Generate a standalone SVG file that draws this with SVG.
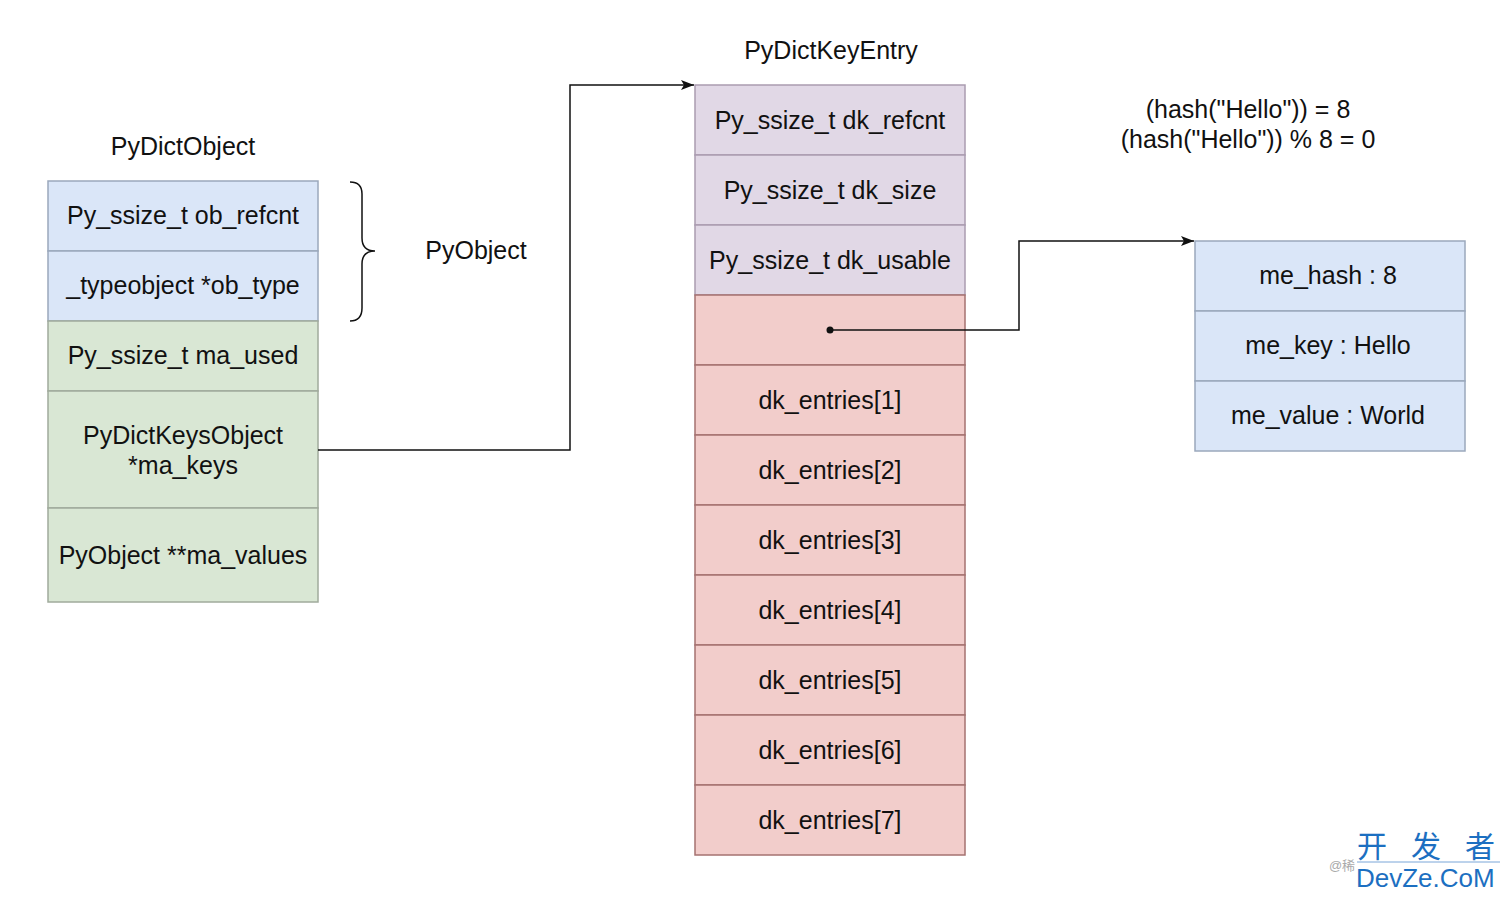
<svg xmlns="http://www.w3.org/2000/svg" width="1512" height="898" viewBox="0 0 1512 898">
<style>
text{font-family:"Liberation Sans",Helvetica,Arial,sans-serif;font-size:25px;fill:#111;text-anchor:middle}
.blue{fill:#dae6f8;stroke:#9ba8bc;stroke-width:1.5}
.green{fill:#d9e7d4;stroke:#a0ab9c;stroke-width:1.5}
.purple{fill:#e1d8e6;stroke:#aa9cb0;stroke-width:1.5}
.red{fill:#f2cdcb;stroke:#a57270;stroke-width:1.5}
.conn{fill:none;stroke:#111;stroke-width:1.5}
.wm{font-family:"Liberation Sans","Noto Sans CJK SC",sans-serif;fill:#1c6fc1;text-anchor:start}
.wc{font-family:"Noto Sans CJK SC",sans-serif;fill:#1c6fc1;font-size:30px;text-anchor:start}
</style>
<defs>
<marker id="arr" markerWidth="14" markerHeight="10" refX="13" refY="5" orient="auto" markerUnits="userSpaceOnUse">
<path d="M0,0 L13,5 L0,10 L3,5 z" fill="#111"/>
</marker>
</defs>
<rect width="1512" height="898" fill="#fff"/>

<g id="labels">
<text x="183" y="155">PyDictObject</text>
<text x="476" y="259">PyObject</text>
<text x="831" y="59">PyDictKeyEntry</text>
<text x="1248" y="118">(hash("Hello")) = 8</text>
<text x="1248" y="148">(hash("Hello")) % 8 = 0</text>
</g>

<g id="brace">
<path d="M350,182 Q362,182 362,194 L362,238 Q362,251 375,251 Q362,251 362,264 L362,308 Q362,321 350,321" fill="none" stroke="#111" stroke-width="1.5"/>
</g>

<g id="PyDictObject">
<g id="ob_refcnt"><rect class="blue" x="48" y="181" width="270" height="70"/><text x="183" y="224">Py_ssize_t ob_refcnt</text></g>
<g id="ob_type"><rect class="blue" x="48" y="251" width="270" height="70"/><text x="183" y="294">_typeobject *ob_type</text></g>
<g id="ma_used"><rect class="green" x="48" y="321" width="270" height="70"/><text x="183" y="364">Py_ssize_t ma_used</text></g>
<g id="ma_keys"><rect class="green" x="48" y="391" width="270" height="117"/><text x="183" y="444">PyDictKeysObject</text><text x="183" y="474">*ma_keys</text></g>
<g id="ma_values"><rect class="green" x="48" y="508" width="270" height="94"/><text x="183" y="564">PyObject **ma_values</text></g>
</g>

<g id="PyDictKeyEntry">
<g id="dk_refcnt"><rect class="purple" x="695" y="85" width="270" height="70"/><text x="830" y="129">Py_ssize_t dk_refcnt</text></g>
<g id="dk_size"><rect class="purple" x="695" y="155" width="270" height="70"/><text x="830" y="199">Py_ssize_t dk_size</text></g>
<g id="dk_usable"><rect class="purple" x="695" y="225" width="270" height="70"/><text x="830" y="269">Py_ssize_t dk_usable</text></g>
<g id="dk_entries0"><rect class="red" x="695" y="295" width="270" height="70"/></g>
<g id="dk_entries1"><rect class="red" x="695" y="365" width="270" height="70"/><text x="830" y="409">dk_entries[1]</text></g>
<g id="dk_entries2"><rect class="red" x="695" y="435" width="270" height="70"/><text x="830" y="479">dk_entries[2]</text></g>
<g id="dk_entries3"><rect class="red" x="695" y="505" width="270" height="70"/><text x="830" y="549">dk_entries[3]</text></g>
<g id="dk_entries4"><rect class="red" x="695" y="575" width="270" height="70"/><text x="830" y="619">dk_entries[4]</text></g>
<g id="dk_entries5"><rect class="red" x="695" y="645" width="270" height="70"/><text x="830" y="689">dk_entries[5]</text></g>
<g id="dk_entries6"><rect class="red" x="695" y="715" width="270" height="70"/><text x="830" y="759">dk_entries[6]</text></g>
<g id="dk_entries7"><rect class="red" x="695" y="785" width="270" height="70"/><text x="830" y="829">dk_entries[7]</text></g>
</g>

<g id="Entry">
<g id="me_hash"><rect class="blue" x="1195" y="241" width="270" height="70"/><text x="1328" y="284">me_hash : 8</text></g>
<g id="me_key"><rect class="blue" x="1195" y="311" width="270" height="70"/><text x="1328" y="354">me_key : Hello</text></g>
<g id="me_value"><rect class="blue" x="1195" y="381" width="270" height="70"/><text x="1328" y="424">me_value : World</text></g>
</g>

<g id="connectors">
<polyline class="conn" points="318,450 570,450 570,85 694,85" marker-end="url(#arr)"/>
<polyline class="conn" points="830,330 1019,330 1019,241 1194,241" marker-end="url(#arr)"/>
<circle cx="830" cy="330" r="3.5" fill="#111"/>
</g>

<g id="watermark">
<text class="wc" x="1357" y="857">开</text>
<text class="wc" x="1411" y="857">发</text>
<text class="wc" x="1465" y="857">者</text>
<line x1="1357" y1="862" x2="1500" y2="862" stroke="#7aa6d8" stroke-width="1"/>
<text class="wm" x="1356" y="887" style="font-size:26px">DevZe.CoM</text>
<text x="1342" y="870" style="font-family:'Liberation Sans','Noto Sans CJK SC',sans-serif;font-size:13px;fill:#aaa">@稀</text>
</g>
</svg>
